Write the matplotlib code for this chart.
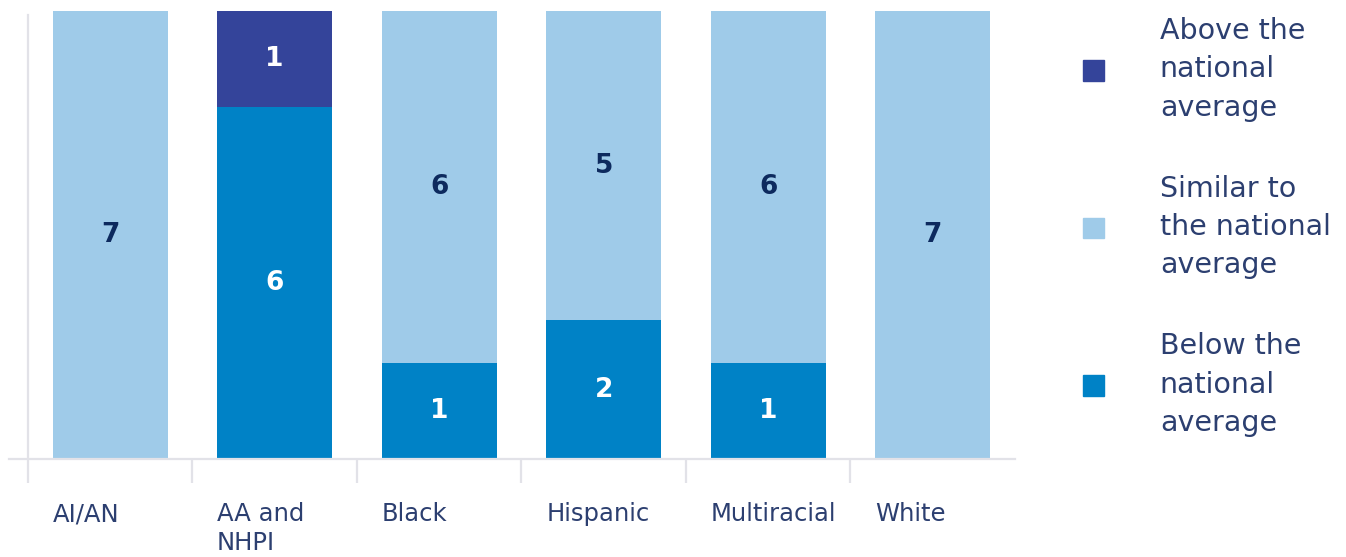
import numpy as np
import matplotlib.pyplot as plt
from matplotlib.patches import Patch
from matplotlib.transforms import offset_copy

plt.rcParams['font.family'] = ['DejaVu Sans']

groups = ["AI/AN", "AA and\nNHPI", "Black", "Hispanic", "Multiracial", "White"]
# counts shown in the labels
below_n = [0, 6, 1, 2, 1, 0]
similar_n = [7, 0, 6, 5, 6, 7]
above_n = [0, 1, 0, 0, 0, 0]
# segment heights as drawn in the chart (full bar = 7)
below_h = [0, 5.5, 1.5, 2.17, 1.5, 0]
similar_h = [7, 0, 5.5, 4.83, 5.5, 7]
above_h = [0, 1.5, 0, 0, 0, 0]

series_names = ["Above the\nnational\naverage", "Similar to\nthe national\naverage",
                "Below the\nnational\naverage"]
col_above = "#34449a"
col_similar = "#9fcbe9"
col_below = "#0082c6"
txt_dark = "#0d2a5e"
lbl_col = "#2c3f70"
grid_col = "#e2e2e8"

fig = plt.figure(figsize=(13.46, 5.57), dpi=100)
ax = fig.add_axes([9/1346, 98/557, (1015-9)/1346, 448/557])

x = np.arange(len(groups))
w = 0.70
stack = [(below_h, below_n, col_below, "white"),
         (similar_h, similar_n, col_similar, txt_dark),
         (above_h, above_n, col_above, "white")]
bottom = np.zeros(len(groups))
for hts, counts, c, tc in stack:
    hts = np.array(hts, dtype=float)
    ax.bar(x, hts, w, bottom=bottom, color=c, linewidth=0)
    for i, n in enumerate(counts):
        if n > 0:
            ax.text(x[i], bottom[i] + hts[i] / 2, str(n), ha="center", va="center",
                    color=tc, fontsize=19, fontweight="bold")
    bottom += hts

ax.set_xlim(-0.615, 5.5)
ax.set_ylim(0, 7)
for s in ["top", "right", "left"]:
    ax.spines[s].set_visible(False)
ax.spines["bottom"].set_color(grid_col)
ax.spines["bottom"].set_linewidth(1.6)
ax.set_yticks([])
ax.set_xticks(np.arange(len(groups)) - 0.5)
ax.set_xticklabels([])
ax.tick_params(axis="x", length=17, width=1.6, color=grid_col, direction="out")
ax.axvline(-0.5, 0, 0.991, color=grid_col, lw=1.6, zorder=0)

# category labels, left aligned with the bars
tr = offset_copy(ax.get_xaxis_transform(), fig=fig, x=0, y=-43, units="dots")
for i, g in enumerate(groups):
    ax.text(x[i] - w / 2, 0, g, transform=tr, ha="left", va="top",
            fontsize=17.5, color=lbl_col, linespacing=1.25)

handles = [Patch(color=col_above), Patch(color=col_similar), Patch(color=col_below)]
leg = fig.legend(handles, series_names, loc="upper left", bbox_to_anchor=(1083/1346, 1 - 17/557),
                 frameon=False, fontsize=20.5, handlelength=0.74, handleheight=0.74,
                 handletextpad=1.96, labelspacing=1.86, labelcolor=lbl_col,
                 borderpad=0, borderaxespad=0)
for t in leg.get_texts():
    t.set_linespacing(1.47)

fig.savefig("out.png", dpi=100)
